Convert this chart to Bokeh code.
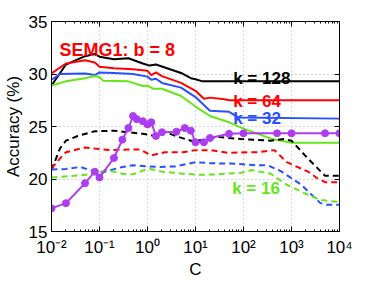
from bokeh.plotting import figure
from bokeh.models import FixedTicker, LogAxis, LinearAxis, Label
from bokeh.embed import file_html
from bokeh.resources import INLINE

# ---------------- data ----------------
x_ticks = [0.01, 0.1, 1, 10, 100, 1000, 10000]
x_tick_labels = ["10\u207b\u00b2", "10\u207b\u00b9", "10\u2070", "10\u00b9", "10\u00b2", "10\u00b3", "10\u2074"]
y_ticks = [15, 20, 25, 30, 35]

# purple baseline (markers)
c_base = [0.01, 0.02, 0.05, 0.08, 0.1, 0.2, 0.3, 0.4, 0.5, 0.6, 0.8, 1.0, 1.2, 1.5, 2, 4, 6, 8,
          10, 15, 20, 50, 100, 500, 1000, 5000, 10000]
acc_base = [17.2, 17.7, 19.6, 20.7, 20.15, 22.0, 23.75, 24.85, 26.0, 25.7, 25.5, 25.2, 25.4, 24.1,
            24.45, 24.5, 24.85, 24.6, 23.5, 23.5, 23.9, 24.3, 24.35, 24.35, 24.35, 24.35, 24.35]

# solid lines
c_k128 = [0.01, 0.02, 0.05, 0.08, 0.1, 0.2, 0.4, 0.8, 1.1, 1.5, 5, 8, 10, 14, 10000]
acc_k128 = [28.9, 30.9, 31.7, 31.9, 31.65, 31.4, 31.5, 31.0, 30.8, 30.9, 30.1, 29.6, 29.5, 29.3, 29.3]

c_k64 = [0.01, 0.02, 0.05, 0.08, 0.1, 0.2, 0.5, 1, 1.2, 1.5, 2, 5, 10, 15, 20, 40, 50, 10000]
acc_k64 = [30.05, 31.0, 31.3, 31.1, 30.7, 30.55, 30.45, 30.3, 29.9, 30.15, 29.8, 29.15, 28.4,
           27.65, 27.75, 27.6, 27.5, 27.5]

c_k32 = [0.01, 0.015, 0.05, 0.08, 0.1, 0.2, 0.5, 1, 1.2, 1.5, 2, 5, 10, 20, 50, 80, 10000]
acc_k32 = [29.45, 30.0, 30.05, 29.9, 30.15, 30.1, 30.0, 29.75, 29.45, 29.55, 29.15, 28.7, 27.8,
           26.5, 26.4, 25.85, 25.75]

c_k16 = [0.01, 0.02, 0.05, 0.08, 0.1, 0.12, 0.4, 0.8, 1, 1.3, 2, 5, 10, 20, 50, 100, 400, 1000, 10000]
acc_k16 = [28.9, 29.3, 29.6, 29.8, 29.7, 29.35, 29.3, 28.85, 28.9, 28.6, 28.6, 27.9, 26.9, 26.0,
           25.4, 24.8, 23.8, 23.45, 23.45]

# dashed lines
c_k128d = [0.01, 0.015, 0.02, 0.035, 0.08, 0.2, 0.4, 0.8, 1.5, 2.3, 3.8, 8, 14, 30, 90, 370, 700,
           1000, 2200, 5000, 10000]
acc_k128d = [20.85, 22.9, 23.65, 24.1, 24.55, 24.6, 24.45, 24.3, 24.1, 24.5, 24.1, 23.65, 23.7,
             24.0, 23.8, 23.65, 23.8, 23.65, 21.95, 20.3, 20.3]

c_k64d = [0.01, 0.015, 0.02, 0.05, 0.08, 0.17, 0.4, 0.7, 1.2, 2.3, 5.5, 10, 21, 47, 120, 200, 440,
          800, 2200, 3500, 5000, 10000]
acc_k64d = [21.0, 21.95, 22.55, 23.0, 22.9, 22.75, 22.8, 22.8, 22.25, 22.55, 22.55, 22.75, 22.75,
            22.5, 22.55, 22.55, 22.75, 21.6, 20.7, 20.05, 19.7, 19.7]

c_k32d = [0.01, 0.02, 0.04, 0.08, 0.12, 0.3, 0.5, 1, 1.7, 3.8, 10, 21, 75, 190, 320, 600, 1600,
          4000, 5500, 10000]
acc_k32d = [20.9, 20.95, 21.15, 20.7, 20.65, 21.15, 21.3, 21.2, 21.15, 21.2, 21.6, 21.5, 21.45,
            21.3, 21.3, 20.75, 19.45, 17.7, 17.55, 17.55]

c_k16d = [0.01, 0.03, 0.08, 0.14, 0.3, 0.5, 1.05, 2, 5.5, 13, 30, 90, 150, 370, 800, 2200, 4000, 10000]
acc_k16d = [20.15, 20.3, 20.5, 20.85, 20.5, 20.45, 21.0, 20.7, 20.5, 20.4, 20.45, 20.6, 20.85,
            20.5, 19.45, 18.5, 18.0, 17.8]

# annotations
title_text = "SEMG1: b = 8"
k_labels = ["k = 128", "k = 64", "k = 32", "k = 16"]
k_label_x = [61, 61, 61, 58]
k_label_y = [29.55, 27.42, 25.77, 19.13]

BLACK = "#000000"
RED = "#ff0000"
BLUE = "#2850ff"
GREEN = "#66e619"
PURPLE = "#ad3df0"
k_colors = [BLACK, RED, BLUE, GREEN]

FONT = "Liberation Sans"

# ---------------- figure ----------------
p = figure(width=366, height=281, x_axis_type="log", x_range=(0.01, 10000), y_range=(15, 35),
           output_backend="svg", toolbar_location=None,
           min_border_left=49, min_border_right=27, min_border_top=21, min_border_bottom=47)
p.background_fill_color = "white"
p.border_fill_color = "white"
p.outline_line_color = "black"
p.outline_line_width = 1

minor_x = [m * 10.0 ** e for e in range(-2, 4) for m in range(2, 10)]
xt = FixedTicker(ticks=x_ticks, minor_ticks=minor_x)
yt = FixedTicker(ticks=y_ticks, minor_ticks=[])

p.xaxis.ticker = xt
p.yaxis.ticker = yt
p.xaxis.major_label_overrides = {t: l for t, l in zip(x_ticks, x_tick_labels)}
p.xaxis.axis_label = "C"
p.yaxis.axis_label = "Accuracy (%)"

for ax in (p.xaxis[0], p.yaxis[0]):
    ax.axis_line_color = "black"
    ax.major_tick_in = 5
    ax.major_tick_out = 0
    ax.minor_tick_in = 2
    ax.minor_tick_out = 0
    ax.major_tick_line_color = "black"
    ax.minor_tick_line_color = "black"
    ax.major_label_text_font = FONT
    ax.major_label_text_font_size = "17px"
    ax.major_label_text_color = "black"
    ax.axis_label_text_font = FONT
    ax.axis_label_text_font_size = "17px"
    ax.axis_label_text_font_style = "normal"
    ax.axis_label_text_color = "black"
p.xaxis.major_label_standoff = 6
p.xaxis.axis_label_standoff = 0
p.yaxis.major_label_standoff = 4
p.yaxis.axis_label_standoff = 3

top = LogAxis(ticker=xt, major_label_text_font_size="1px", major_label_text_alpha=0,
              major_tick_in=5, major_tick_out=0, minor_tick_in=2, minor_tick_out=0,
              major_label_standoff=0, axis_line_color="black")
right = LinearAxis(ticker=yt, major_label_text_font_size="1px", major_label_text_alpha=0,
                   major_tick_in=5, major_tick_out=0, minor_tick_in=0, minor_tick_out=0,
                   major_label_standoff=0, axis_line_color="black")
p.add_layout(top, "above")
p.add_layout(right, "right")

for g in (p.xgrid[0], p.ygrid[0]):
    g.grid_line_color = "#b0b0b0"
    g.grid_line_dash = "1 3"
    g.grid_line_width = 1
p.xgrid.ticker = xt
p.ygrid.ticker = yt

LW = 2
p.line(c_k128, acc_k128, color=BLACK, line_width=LW)
p.line(c_k64, acc_k64, color=RED, line_width=LW)
p.line(c_k32, acc_k32, color=BLUE, line_width=LW)
p.line(c_k16, acc_k16, color=GREEN, line_width=LW)

p.line(c_k128d, acc_k128d, color=BLACK, line_width=LW, line_dash="6 4")
p.line(c_k64d, acc_k64d, color=RED, line_width=LW, line_dash="6 4")
p.line(c_k32d, acc_k32d, color=BLUE, line_width=LW, line_dash="6 4")
p.line(c_k16d, acc_k16d, color=GREEN, line_width=LW, line_dash="6 4")

p.line(c_base, acc_base, color=PURPLE, line_width=LW)
p.scatter(c_base, acc_base, size=7, color=PURPLE)

p.add_layout(Label(x=0.0146, y=32.28, text=title_text, text_color=RED, text_font=FONT,
                   text_font_size="18px", text_font_style="bold", text_baseline="alphabetic"))
for t, x, y, c in zip(k_labels, k_label_x, k_label_y, k_colors):
    p.add_layout(Label(x=x, y=y, text=t, text_color=c, text_font=FONT, text_font_size="17px",
                       text_font_style="bold", text_baseline="alphabetic"))

open("out.html", "w").write(file_html(p, INLINE))
